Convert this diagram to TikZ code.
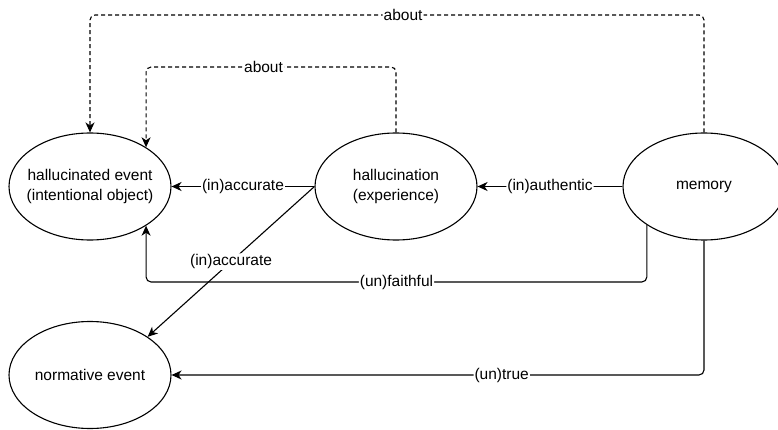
\documentclass[tikz,border=0pt]{standalone}
\usepackage{fontspec}
\setmainfont{Liberation Sans}
\usetikzlibrary{shapes.geometric, arrows.meta}

\begin{document}
\begin{tikzpicture}[x=1pt, y=-1pt,
	event/.style={ellipse, draw, line width=1.1pt, minimum width=162pt, minimum height=107pt, inner sep=0pt},
	evtxt/.style={align=center, font=\fontsize{15.5}{20}\selectfont},
	lbl/.style={fill=white, inner sep=1pt, font=\fontsize{15.5}{17}\selectfont},
	link/.style={line width=1.1pt, rounded corners=5pt, -{Stealth[length=10pt,width=9pt,inset=3pt]}},
	about/.style={link, dash pattern=on 4pt off 3pt}]
	\useasboundingbox (0,0) rectangle (778,430);

	\node (hevent) at (90,186.5) [event, label={[evtxt]center:hallucinated event\\(intentional object)}] {};
	\node (halluc) at (396,186.5) [event, label={[evtxt]center:hallucination\\(experience)}] {};
	\node (memory) at (704,186.5) [event, label={[evtxt]center:memory}] {};
	\node (nevent) at (90,375) [event, label={[evtxt]center:normative event}] {};

	\coordinate (otop) at (0,15);
	\coordinate (itop) at (0,67);
	\coordinate (fbot) at (0,282);

	\draw[about] (memory.north) -- (memory.north |- otop) -- node [lbl,pos=0.49] {about} (hevent.north |- otop) -- (hevent.north);
	\draw[about] (halluc.north) -- (halluc.north |- itop) -- node [lbl,pos=0.53] {about} (hevent.35 |- itop) -- (hevent.35);

	\draw[link] (halluc.west) -- (hevent.east) node [lbl,pos=0.5] {(in)accurate};
	\draw[link] (memory.west) -- (halluc.east) node [lbl,pos=0.5] {(in)authentic};
	\draw[link] (halluc.west) -- (nevent.north east) node [lbl,pos=0.5] {(in)accurate};

	\draw[link] (memory.214) -- (memory.214 |- fbot) -- node [lbl,pos=0.5] {(un)faithful} (hevent.-35 |- fbot) -- (hevent.-35);
	\draw[link] (memory.south) -- (memory.south |- nevent.east) -- node [lbl,pos=0.38] {(un)true} (nevent.east);
\end{tikzpicture}
\end{document}
